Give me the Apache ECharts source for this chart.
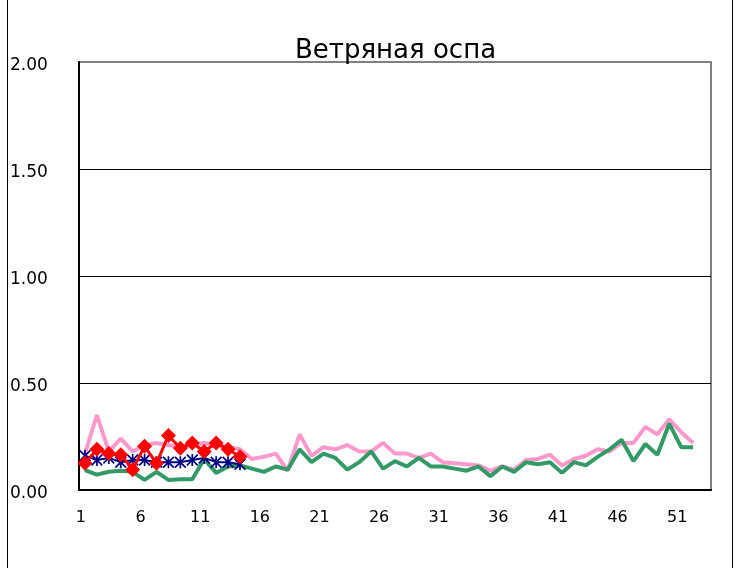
<!DOCTYPE html>
<html>
<head>
<meta charset="utf-8">
<script src="https://cdn.jsdelivr.net/npm/echarts@6/dist/echarts.min.js"></script>
<style>
  html, body { margin: 0; padding: 0; background: #fff; }
  #chart { width: 736px; height: 568px; }
</style>
</head>
<body>
<div id="chart"></div>
<script>
// weeks 1..53 on the category axis
const weeks = []
for (let i = 1; i <= 53; i++) weeks.push(String(i))

const yTicks = [0, 0.5, 1, 1.5, 2]

// pink line
const pinkValues = [0.17, 0.35, 0.18, 0.24, 0.18, 0.21, 0.22, 0.21, 0.20, 0.21,
  0.22, 0.21, 0.20, 0.19, 0.145, 0.155, 0.17, 0.09, 0.26, 0.16,
  0.20, 0.19, 0.21, 0.18, 0.18, 0.22, 0.17, 0.17, 0.15, 0.17,
  0.13, 0.125, 0.12, 0.115, 0.09, 0.11, 0.095, 0.14, 0.145, 0.165,
  0.115, 0.145, 0.16, 0.19, 0.18, 0.22, 0.22, 0.295, 0.26, 0.33,
  0.27, 0.22]

// green line
const greenValues = [0.093, 0.072, 0.085, 0.09, 0.085, 0.047, 0.085, 0.047, 0.05, 0.05,
  0.145, 0.08, 0.11, 0.115, 0.10, 0.085, 0.11, 0.095, 0.19, 0.13,
  0.17, 0.15, 0.095, 0.13, 0.18, 0.10, 0.135, 0.11, 0.15, 0.11,
  0.11, 0.10, 0.09, 0.11, 0.065, 0.11, 0.085, 0.13, 0.12, 0.13,
  0.08, 0.13, 0.115, 0.155, 0.19, 0.235, 0.135, 0.215, 0.165, 0.31,
  0.20, 0.20]

// navy asterisk line
const navyValues = [0.16, 0.14, 0.15, 0.13, 0.14, 0.14, 0.13, 0.13, 0.13, 0.14,
  0.15, 0.13, 0.13, 0.12]

// red diamond line
const redValues = [0.125, 0.19, 0.17, 0.165, 0.095, 0.205, 0.125, 0.255, 0.195, 0.22,
  0.18, 0.22, 0.19, 0.155]

const asterisk = 'path://M4.3,0L5.7,0L5.7,10L4.3,10Z M0,1L1,0L10,9L9,10Z M9,0L10,1L1,10L0,9Z'

const chart = echarts.init(document.getElementById('chart'))
chart.setOption({
  animation: false,
  backgroundColor: '#fff',
  title: {
    text: 'Ветряная оспа',
    left: 290,
    top: 33,
    textStyle: {
      fontFamily: 'DejaVu Sans',
      fontSize: 26,
      fontWeight: 'normal',
      color: '#000'
    }
  },
  graphic: [
    { type: 'line', shape: { x1: 7.5, y1: 0, x2: 7.5, y2: 568 }, style: { stroke: '#000', lineWidth: 1 } },
    { type: 'line', shape: { x1: 732.5, y1: 0, x2: 732.5, y2: 568 }, style: { stroke: '#000', lineWidth: 1 } }
  ],
  grid: {
    left: 79,
    right: 25,
    top: 62,
    bottom: 78,
    show: true,
    borderColor: '#808080',
    borderWidth: 2
  },
  xAxis: {
    type: 'category',
    data: weeks,
    boundaryGap: true,
    axisLine: { lineStyle: { color: '#000', width: 2 } },
    axisTick: { inside: true, length: 5, interval: 4, lineStyle: { color: '#000' } },
    axisLabel: {
      interval: 4,
      margin: 20,
      padding: [0, 8, 0, 0],
      color: '#000',
      fontFamily: 'DejaVu Sans',
      fontSize: 16
    },
    splitLine: { show: false }
  },
  yAxis: {
    type: 'value',
    min: yTicks[0],
    max: yTicks[yTicks.length - 1],
    interval: 0.5,
    axisLine: { show: true, lineStyle: { color: '#000', width: 2 } },
    axisTick: { show: false },
    axisLabel: {
      align: 'left',
      verticalAlign: 'top',
      lineHeight: 8,
      margin: 69,
      color: '#000',
      fontFamily: 'DejaVu Sans',
      fontSize: 17,
      formatter: v => v.toFixed(2)
    },
    splitLine: { lineStyle: { color: ['#000', '#000', '#000', '#000', '#808080'], width: 1 } }
  },
  series: [
    {
      name: 'pink',
      type: 'line',
      data: pinkValues,
      symbol: 'none',
      lineStyle: { color: '#ff99cc', width: 4 },
      z: 2
    },
    {
      name: 'green',
      type: 'line',
      data: greenValues,
      symbol: 'none',
      lineStyle: { color: '#339966', width: 4 },
      z: 3
    },
    {
      name: 'navy',
      type: 'line',
      data: navyValues,
      symbol: asterisk,
      symbolSize: 12,
      showAllSymbol: true,
      itemStyle: { color: '#000080' },
      lineStyle: { color: '#000080', width: 2 },
      z: 4
    },
    {
      name: 'red',
      type: 'line',
      data: redValues,
      symbol: 'diamond',
      symbolSize: 15,
      showAllSymbol: true,
      itemStyle: { color: '#ff0000' },
      lineStyle: { color: '#ff0000', width: 3 },
      z: 5
    }
  ]
})
</script>
</body>
</html>
